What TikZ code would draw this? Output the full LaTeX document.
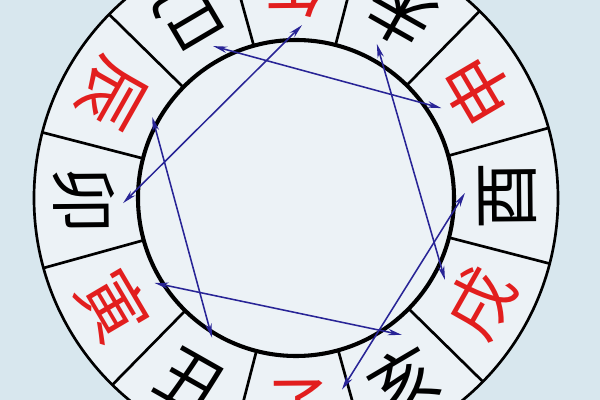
\documentclass[tikz,border=0pt]{standalone}
\usepackage{fontspec}
\newfontfamily\cjk{Noto Sans CJK SC}
\usetikzlibrary{arrows.meta}
\definecolor{bgblue}{RGB}{216,231,238}
\definecolor{ringfill}{RGB}{236,242,246}
\definecolor{branchred}{RGB}{226,30,30}
\definecolor{linkblue}{RGB}{40,36,150}
\tikzset{
  branch/.style={font=\cjk\fontsize{48}{48}\selectfont, inner sep=0pt},
  link/.style={linkblue, line width=1.1pt, >={Stealth[length=10pt,width=4.6pt]}, <->},
}

\begin{document}
\begin{tikzpicture}[x=0.025cm, y=0.025cm]
			%%%%% START %%%%%
			
			\fill[bgblue] (-296,-202) rectangle (304,198);
			\useasboundingbox (-296,-202) rectangle (304,198);
			
			\fill[ringfill] (0,0) circle (262);
			\draw[line width=1.9pt] (0,0) circle (262);
			\foreach \a in {15.5,45.5,...,345.5}
				\draw[line width=1.9pt] (\a:158) -- (\a:262);
			\draw[line width=2.9pt] (0,0) circle (158);
			
			% the twelve branches, tops towards the centre
			\foreach \a/\name/\txt/\col in {90.5/wu/午/branchred, 60.5/wei/未/black,
				30.5/shen/申/branchred, 0.5/you/酉/black, -29.5/xu/戌/branchred,
				-59.5/hai/亥/black, -89.5/zi/子/branchred, -119.5/chou/丑/black,
				-149.5/yin/寅/branchred, 180.5/mao/卯/black, 150.5/chen/辰/branchred,
				120.5/si/巳/black}
				\node[branch, text=\col, rotate=\a+90] (\name) at (\a:212) {\txt};
			
			% ends of the links
			\coordinate (si-end) at (118.6:173);
			\coordinate (shen-end) at (31.7:171);
			\coordinate (mao-end) at (181.7:173);
			\coordinate (wu-end) at (88:173);
			\coordinate (wei-end) at (62.3:174);
			\coordinate (xu-end) at (-28.8:170);
			\coordinate (chen-end) at (150.6:165);
			\coordinate (chou-end) at (239:163);
			\coordinate (yin-end) at (211:165);
			\coordinate (hai-end) at (307.7:173);
			\coordinate (you-end) at (1.7:169);
			\coordinate (zi-end) at (283.5:197);
			
			\draw[link] (si-end) -- (shen-end);
			\draw[link] (mao-end) -- (wu-end);
			\draw[link] (wei-end) -- (xu-end);
			\draw[link] (chen-end) -- (chou-end);
			\draw[link] (yin-end) -- (hai-end);
			\draw[link] (you-end) -- (zi-end);
			
			%%%%% END %%%%%
\end{tikzpicture}
\end{document}
